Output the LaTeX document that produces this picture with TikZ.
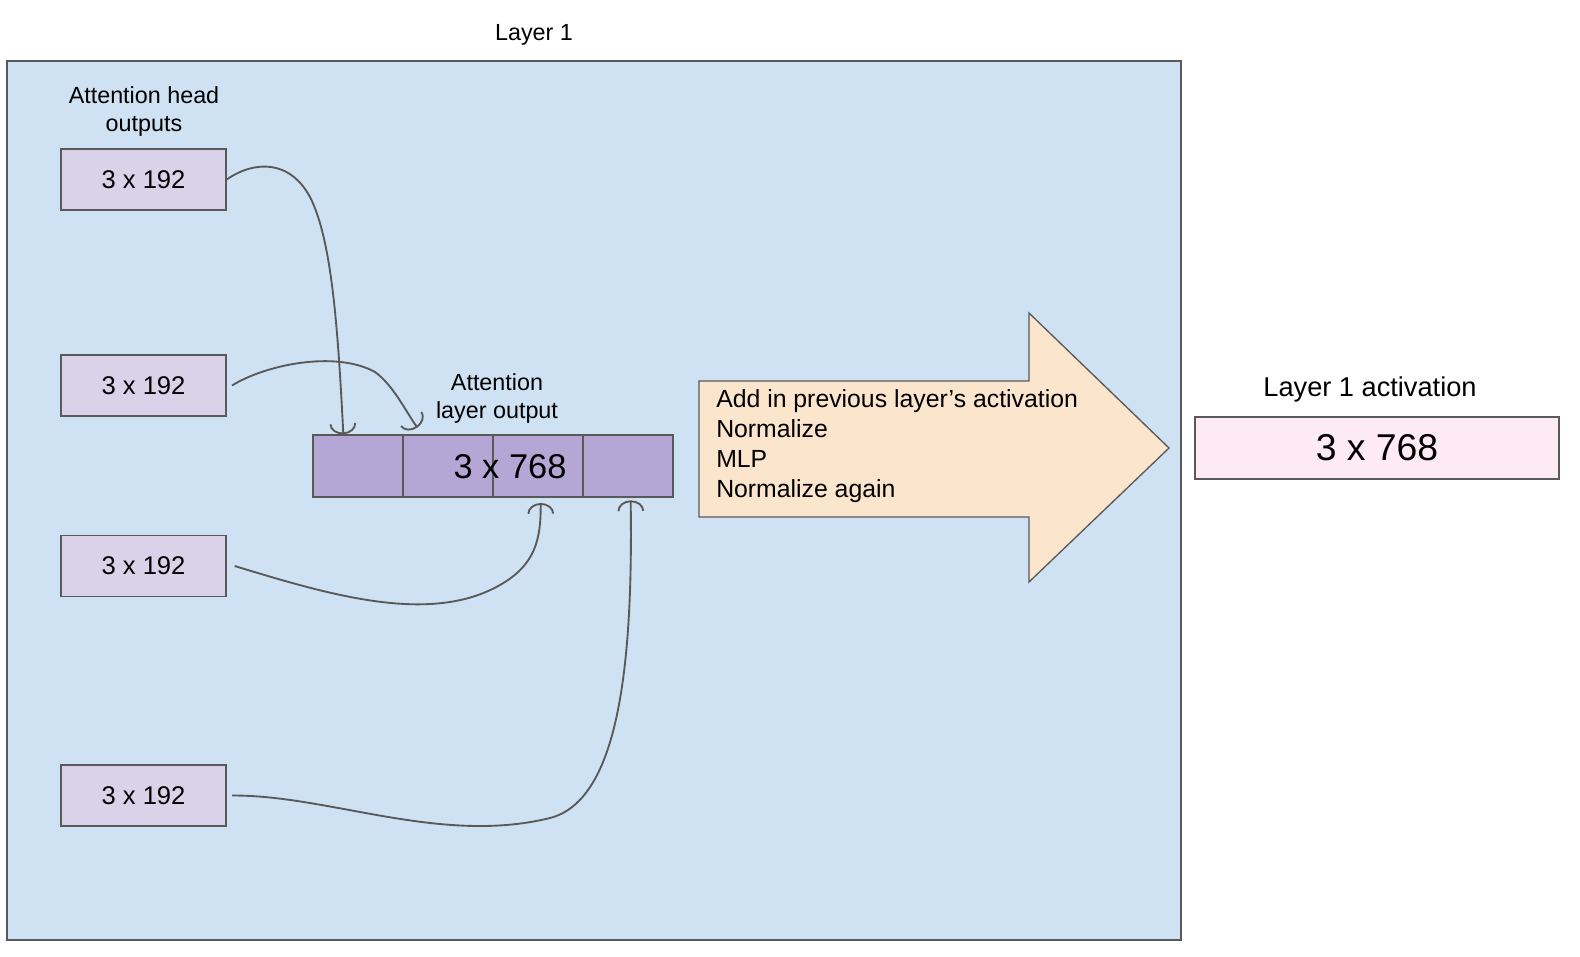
\documentclass[tikz,border=0pt]{standalone}
\usepackage{fontspec}
\setmainfont{Liberation Sans}
\usetikzlibrary{arrows.meta}
\definecolor{bluebg}{HTML}{CFE2F3}
\definecolor{edgec}{HTML}{595959}
\definecolor{headfill}{HTML}{D9D2E9}
\definecolor{barfill}{HTML}{B4A7D6}
\definecolor{arrowfill}{HTML}{FCE5CD}
\definecolor{pinkfill}{HTML}{FEEAF3}
\newcommand\fsLabel{\fontsize{17.5bp}{21bp}\selectfont}
\newcommand\fsHead{\fontsize{19.2bp}{23bp}\selectfont}
\newcommand\fsSteps{\fontsize{18.6bp}{22.3bp}\selectfont}
\newcommand\fsBar{\fontsize{25.8bp}{30bp}\selectfont}
\newcommand\fsAct{\fontsize{28bp}{32bp}\selectfont}
\newcommand\fsActLbl{\fontsize{20.4bp}{24bp}\selectfont}
\begin{document}
\begin{tikzpicture}[x=0.75bp,y=-0.75bp,
  headbox/.style={draw=edgec, line width=1bp, fill=headfill, minimum width=123.75bp, minimum height=45.75bp, inner sep=0pt, font=\fsHead},
  cell/.style={draw=edgec, line width=1bp, fill=barfill, minimum width=67.5bp, minimum height=46.5bp, inner sep=0pt},
  lbl/.style={font=\fsLabel, align=center, inner sep=0pt},
  conn/.style={draw=edgec, line width=1.4bp, -{Arc Barb[length=8bp,width=20bp,line width=1.4bp]}}
]
\useasboundingbox (0,0) rectangle (1580,956);
\fill[white] (0,0) rectangle (1580,956);
% layer box
\node[draw=edgec, line width=2bp, fill=bluebg, minimum width=880.5bp, minimum height=659.25bp, inner sep=0pt] (layer) at (594,500.5) {};
\node[lbl] (layerlbl) at (534,35) {Layer 1};
\node[lbl] (headlbl) at (144,111) {Attention head\\outputs};
% head boxes
\node[headbox] (h1) at (143.5,179.5) {3 x 192};
\node[headbox] (h2) at (143.5,385.5) {3 x 192};
\node[headbox] (h3) at (143.5,566) {3 x 192};
\node[headbox] (h4) at (143.5,795.5) {3 x 192};
% attention output bar
\node[lbl] (outlbl) at (497,398) {Attention\\layer output};
\node[cell] (c1) at (358,466) {};
\node[cell] (c2) at (448,466) {};
\node[cell] (c3) at (538,466) {};
\node[cell] (c4) at (628,466) {};
\node[font=\fsBar, inner sep=0pt] (bartxt) at (510,467) {3 x 768};
% connectors
\draw[conn] (h1.east) .. controls (255,160) and (290,160) .. (310,197) .. controls (332,240) and (338,330) .. ([xshift=-11bp]c1.north);
\draw[conn] ([xshift=4bp]h2.east) .. controls (265,365) and (335,350) .. (375,372) .. controls (393,385) and (405,410) .. ([xshift=-23bp,yshift=5bp]c2.north);
\draw[conn] ([xshift=6bp]h3.east) .. controls (330,595) and (430,625) .. (500,585) .. controls (535,565) and (541,540) .. ([xshift=2bp,yshift=-4bp]c3.south);
\draw[conn] ([xshift=4bp]h4.east) .. controls (330,795) and (440,845) .. (550,818) .. controls (620,800) and (633,660) .. ([xshift=2bp,yshift=-2bp]c4.south);
% big arrow
\draw[draw=edgec, line width=1bp, fill=arrowfill] (699,381) -- (1029,381) -- (1029,313) -- (1169,448) -- (1029,582) -- (1029,517) -- (699,517) -- cycle;
\node[font=\fsSteps, align=left, anchor=west, inner sep=0pt] (steps) at (716,446) {Add in previous layer’s activation\\Normalize\\MLP\\Normalize again};
% result
\node[font=\fsActLbl, inner sep=0pt] (actlbl) at (1370,389) {Layer 1 activation};
\node[draw=edgec, line width=1bp, fill=pinkfill, minimum width=273bp, minimum height=46.5bp, inner sep=0pt, font=\fsAct] (act) at (1377,448) {3 x 768};
\end{tikzpicture}
\end{document}
